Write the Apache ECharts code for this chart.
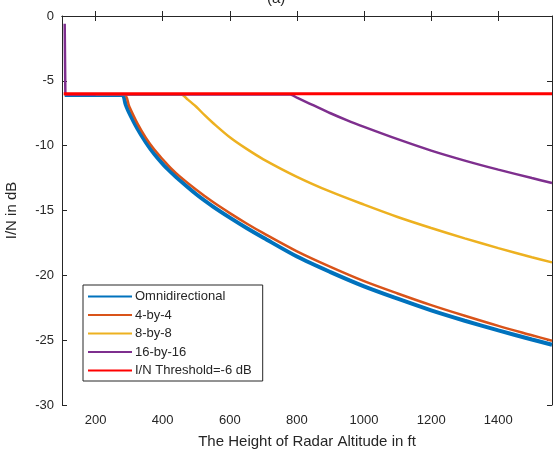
<!DOCTYPE html>
<html>
<head>
<meta charset="utf-8">
<script src="https://cdn.jsdelivr.net/npm/echarts@6/dist/echarts.min.js"></script>
<style>
  html, body { margin: 0; padding: 0; background: #fff; }
  #chart { width: 553px; height: 451px; }
</style>
</head>
<body>
<div id="chart"></div>
<script>
// tick labels
var xTicks = [200, 400, 600, 800, 1000, 1200, 1400];

// Omnidirectional
var omniH  = [108, 278, 290, 300, 325, 350, 375, 400, 425, 450, 500, 550, 600, 650, 700, 800, 900, 1000, 1100, 1200, 1300, 1400, 1500, 1560];
var omniDb = [-6.1, -6.1, -6.85, -7.45, -8.7, -9.75, -10.65, -11.4, -12.05, -12.65, -13.75, -14.7, -15.55, -16.35, -17.1, -18.55, -19.75, -20.85, -21.8, -22.7, -23.5, -24.25, -24.95, -25.35];

// 4-by-4
var h4  = [108, 285, 300, 325, 350, 375, 400, 425, 450, 500, 550, 600, 650, 700, 800, 900, 1000, 1100, 1200, 1300, 1400, 1500, 1560];
var db4 = [-6.05, -6.05, -6.95, -8.3, -9.4, -10.3, -11.05, -11.75, -12.35, -13.4, -14.35, -15.2, -16.0, -16.75, -18.15, -19.35, -20.45, -21.4, -22.3, -23.12, -23.9, -24.62, -25.05];

// 8-by-8
var h8  = [108, 455, 475, 500, 525, 550, 600, 650, 700, 800, 900, 1000, 1100, 1200, 1300, 1400, 1500, 1560];
var db8 = [-6.05, -6.05, -6.45, -7.0, -7.65, -8.25, -9.35, -10.25, -11.05, -12.4, -13.55, -14.55, -15.5, -16.35, -17.15, -17.9, -18.6, -19.0];

// 16-by-16 (start spike, then curve)
var h16Spike  = [108, 110, 200];
var db16Spike = [-0.6, -6.05, -6.05];
var h16  = [110, 780, 800, 825, 850, 900, 950, 1000, 1100, 1200, 1300, 1400, 1500, 1560];
var db16 = [-6.05, -6.05, -6.3, -6.6, -6.9, -7.5, -8.05, -8.55, -9.5, -10.38, -11.15, -11.85, -12.5, -12.88];

// threshold
var thrH  = [105, 1560];
var thrDb = [-6, -6];

function pairs(xs, ys) {
  return xs.map(function (x, i) { return [x, ys[i]]; });
}

var txt = '#262626';
var font = 'Liberation Sans, Arial, Helvetica, sans-serif';

var chart = echarts.init(document.getElementById('chart'));

function line(name, xs, ys, color, width, z, smooth) {
  return {
    name: name,
    type: 'line',
    data: pairs(xs, ys),
    symbol: 'none',
    smooth: smooth,
    z: z,
    lineStyle: { color: color, width: width },
    itemStyle: { color: color }
  };
}

var option = {
  animation: false,
  backgroundColor: '#fff',
  title: {
    text: '(a)',
    left: 262,
    top: -14,
    textStyle: { fontFamily: font, fontSize: 15, fontWeight: 'normal', color: txt }
  },
  grid: { left: 62, right: 1, top: 16, bottom: 46, outerBoundsMode: 'none' },
  legend: {
    orient: 'vertical',
    left: 83,
    top: 285,
    itemWidth: 44,
    itemHeight: 14,
    itemGap: 5.5,
    padding: [5, 11, 4, 4],
    borderColor: txt,
    borderWidth: 1,
    backgroundColor: '#fff',
    itemStyle: { opacity: 0 },
    textStyle: { fontFamily: font, fontSize: 13, color: txt, padding: [0, 0, 0, -2] },
    data: ['Omnidirectional', '4-by-4', '8-by-8', '16-by-16', 'I/N Threshold=-6 dB']
  },
  xAxis: [{
    type: 'value',
    min: 100,
    max: 1560,
    name: 'The Height of Radar Altitude in ft',
    nameLocation: 'middle',
    nameGap: 29,
    nameTextStyle: { fontFamily: font, fontSize: 15, color: txt },
    axisLine: { lineStyle: { color: txt } },
    axisTick: { inside: true, length: 5, customValues: xTicks, lineStyle: { color: txt } },
    axisLabel: { customValues: xTicks, fontFamily: font, fontSize: 13, color: txt, margin: 9,
      formatter: function (v) { return String(v); } },
    splitLine: { show: false }
  }, {
    type: 'value',
    position: 'top',
    min: 100,
    max: 1560,
    axisLine: { lineStyle: { color: txt } },
    axisTick: { inside: true, length: 5, customValues: xTicks, lineStyle: { color: txt } },
    axisLabel: { show: false },
    splitLine: { show: false }
  }],
  yAxis: [{
    type: 'value',
    min: -30,
    max: 0,
    interval: 5,
    name: 'I/N in dB',
    nameLocation: 'middle',
    nameGap: 43,
    nameTextStyle: { fontFamily: font, fontSize: 15, color: txt },
    axisLine: { show: true, lineStyle: { color: txt } },
    axisTick: { show: true, inside: true, length: 5, lineStyle: { color: txt } },
    axisLabel: { fontFamily: font, fontSize: 13, color: txt, margin: 8 },
    splitLine: { show: false }
  }, {
    type: 'value',
    position: 'right',
    min: -30,
    max: 0,
    interval: 5,
    axisLine: { show: true, lineStyle: { color: txt } },
    axisTick: { show: true, inside: true, length: 5, lineStyle: { color: txt } },
    axisLabel: { show: false },
    splitLine: { show: false }
  }],
  series: [
    line('Omnidirectional', omniH, omniDb, '#0072BD', 4, 2, 0.3),
    line('4-by-4', h4, db4, '#D95319', 2.5, 3, 0.3),
    line('8-by-8', h8, db8, '#EDB120', 2.5, 4, 0.3),
    line('16-by-16', h16, db16, '#7E2F8E', 2.5, 5, 0.3),
    line('16-by-16', h16Spike, db16Spike, '#7E2F8E', 2.5, 5, false),
    line('I/N Threshold=-6 dB', thrH, thrDb, '#FF0000', 3, 6, false)
  ]
};

chart.setOption(option);
</script>
</body>
</html>
